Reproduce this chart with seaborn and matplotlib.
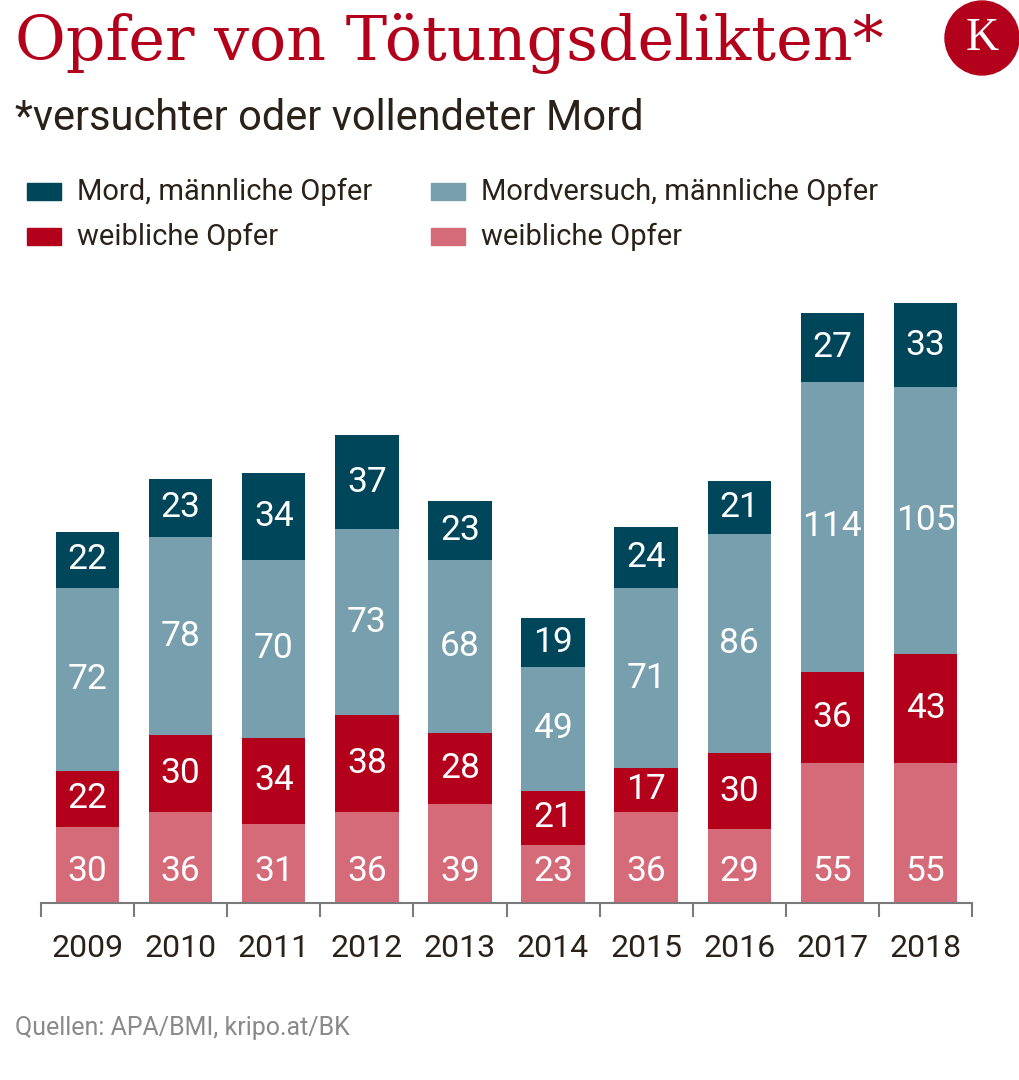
import numpy as np
import pandas as pd
import matplotlib.pyplot as plt
import seaborn as sns
from matplotlib.patches import Rectangle, Circle

# Daten
jahre = ['2009', '2010', '2011', '2012', '2013', '2014', '2015', '2016', '2017', '2018']
weiblich_versuch = [30, 36, 31, 36, 39, 23, 36, 29, 55, 55]
weiblich_mord = [22, 30, 34, 38, 28, 21, 17, 30, 36, 43]
maennlich_versuch = [72, 78, 70, 73, 68, 49, 71, 86, 114, 105]
maennlich_mord = [22, 23, 34, 37, 23, 19, 24, 21, 27, 33]

farben = {
    'mord_m': '#00465A',
    'versuch_m': '#789FAE',
    'mord_w': '#B3001B',
    'versuch_w': '#D56A78',
}
rot = '#B3001B'
textfarbe = '#2A2118'

sns.set_style('white')
plt.rcParams['font.family'] = ['Roboto', 'DejaVu Sans']

df = pd.DataFrame({
    'Jahr': jahre,
    'versuch_w': weiblich_versuch,
    'mord_w': weiblich_mord,
    'versuch_m': maennlich_versuch,
    'mord_m': maennlich_mord,
})
reihen = ['versuch_w', 'mord_w', 'versuch_m', 'mord_m']
kumuliert = df[reihen].cumsum(axis=1)
for r in reihen:
    df['cum_' + r] = kumuliert[r]

W, H = 1020, 1080
fig = plt.figure(figsize=(W / 100, H / 100), dpi=100)
ax = fig.add_axes([41 / W, 1 - 903 / H, 931 / W, 610 / H])

# gestapelte Balken: von oben nach unten übereinander zeichnen
for r in reversed(reihen):
    sns.barplot(data=df, x='Jahr', y='cum_' + r, color=farben[r], saturation=1,
                width=0.68, linewidth=0, errorbar=None, ax=ax)

# Beschriftung der Segmente (unterste Zahl immer auf gleicher Höhe)
for i in range(len(jahre)):
    unten = 0
    for r in reihen:
        v = df[r][i]
        y = 12.5 if r == 'versuch_w' else unten + v / 2
        ax.text(i, y, str(v), ha='center', va='center',
                color='white', fontsize=25.5)
        unten += v

ax.set_xlim(-0.5, 9.5)
ax.set_ylim(0, 240)
ax.set_xlabel('')
ax.set_ylabel('')
ax.set_yticks([])
for s in ['top', 'left', 'right']:
    ax.spines[s].set_visible(False)
ax.spines['bottom'].set_color('#7a7a7a')
ax.spines['bottom'].set_linewidth(1.5)
ax.set_xticks(range(len(jahre)), labels=jahre)
ax.set_xticks(np.arange(-0.5, 10, 1), minor=True)
ax.tick_params(axis='x', which='major', bottom=True, length=0, pad=22,
               labelsize=23, labelcolor=textfarbe)
ax.tick_params(axis='x', which='minor', bottom=True, length=10, width=1.5,
               color='#7a7a7a', direction='out')

# Titel
fig.text(15 / W, 1 - 60 / H, 'Opfer von Tötungsdelikten*', color=rot,
         fontsize=44.6, family='DejaVu Serif', va='baseline')
fig.text(15 / W, 1 - 130 / H, '*versuchter oder vollendeter Mord', color=textfarbe,
         fontsize=30, va='baseline')

# Logo
fig.add_artist(Circle((982 / 100, (H - 38) / 100), 0.37, color=rot,
                      transform=fig.dpi_scale_trans))
fig.text(982 / W, 1 - 39 / H, 'K', color='white', fontsize=33,
         family='Liberation Serif', ha='center', va='center')

# Legende
legende = [
    ('Mord, männliche Opfer', farben['mord_m'], 27, 200),
    ('Mordversuch, männliche Opfer', farben['versuch_m'], 431, 200),
    ('weibliche Opfer', farben['mord_w'], 27, 245),
    ('weibliche Opfer', farben['versuch_w'], 431, 245),
]
for text, farbe, x, y in legende:
    fig.add_artist(Rectangle((x / W, 1 - y / H), 34 / W, 17 / H, color=farbe,
                             transform=fig.transFigure))
    fig.text((x + 50) / W, 1 - y / H, text, color=textfarbe, fontsize=21,
             va='baseline')

# Quelle
fig.text(15 / W, 1 - 1035 / H, 'Quellen: APA/BMI, kripo.at/BK', color='#8a8a8a',
         fontsize=18, va='baseline')

plt.savefig('out.png', dpi=100)
